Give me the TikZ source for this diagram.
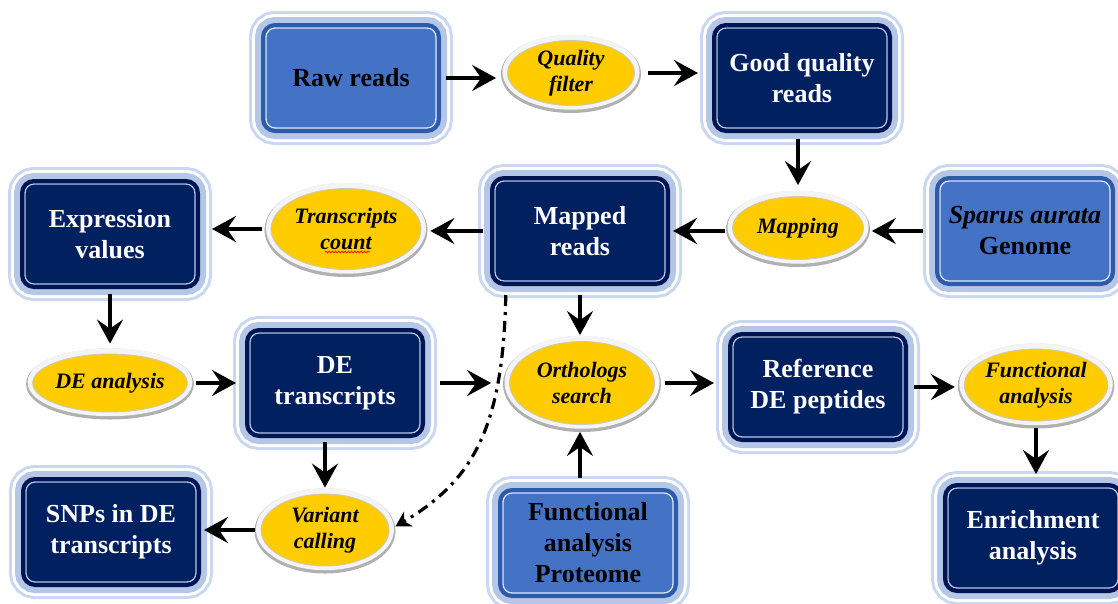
\documentclass[tikz,border=0pt]{standalone}
\usepackage{fontspec}
\setmainfont{Liberation Serif}
\usetikzlibrary{arrows.meta,decorations.pathmorphing,shapes.geometric}

\definecolor{navy}{HTML}{002060}
\definecolor{navyedge}{HTML}{001552}
\definecolor{navyline}{HTML}{B4C7E7}
\definecolor{midblue}{HTML}{4472C4}
\definecolor{midedge}{HTML}{2E5AAC}
\definecolor{midline}{HTML}{DCE5F5}
\definecolor{glowedge}{HTML}{C9D7F0}
\definecolor{glowfill}{HTML}{B4C7E7}
\definecolor{gold}{HTML}{FFCC00}
\definecolor{rimshadow}{HTML}{B0B0B0}
\definecolor{rimlight}{HTML}{F4F4F4}
\definecolor{rimline}{HTML}{C8C8C8}

\newcommand{\boxfont}{\fontsize{26}{31}\selectfont\bfseries}
\newcommand{\ovalfont}{\fontsize{22}{26}\selectfont\bfseries\itshape}

\tikzset{
  glowframe/.style={
    preaction={draw=glowedge, line width=28pt},
    preaction={draw=white, line width=22pt},
    preaction={draw=glowfill, line width=16pt}},
  innerrule/.style={draw=#1, line width=1.3pt, rounded corners=9pt},
  stepbox/.style={glowframe, rectangle, rounded corners=12pt,
    minimum width=176pt, minimum height=106pt, inner sep=0pt,
    align=center, font=\boxfont, line width=4pt},
  darkbox/.style={stepbox, fill=navy, draw=navyedge, text=white,
    path picture={\draw[innerrule=navyline]
      ([xshift=3pt,yshift=3pt]path picture bounding box.south west) rectangle
      ([xshift=-3pt,yshift=-3pt]path picture bounding box.north east);}},
  lightbox/.style={stepbox, fill=midblue, draw=midedge, text=black,
    path picture={\draw[innerrule=midline]
      ([xshift=3pt,yshift=3pt]path picture bounding box.south west) rectangle
      ([xshift=-3pt,yshift=-3pt]path picture bounding box.north east);}},
  oval/.style={ellipse, inner sep=0pt, fill=gold, draw=rimline,
    line width=0.8pt, font=\ovalfont, align=center,
    preaction={draw=rimshadow, line width=13pt, transform canvas={yshift=-1pt}},
    preaction={draw=rimlight, line width=10pt, transform canvas={yshift=0.8pt}}},
  arr/.style={line width=4pt, -{Stealth[length=24pt,width=26pt,inset=9pt]}},
  dashdot/.style={line width=3.2pt, dash pattern=on 11pt off 6pt on 3pt off 6pt,
    -{Stealth[length=15pt,width=17pt,inset=5pt]}},
  squiggle/.style={red, line width=0.7pt, decorate,
    decoration={snake, amplitude=0.9pt, segment length=3.2pt}}
}

\begin{document}
\begin{tikzpicture}[x=1pt,y=-1pt]
\useasboundingbox (0,0) rectangle (1118,603);

% process boxes and steps
\node[lightbox] (raw) at (351,78) {Raw reads};
\node[oval, minimum width=127pt, minimum height=65pt] (qf) at (571,73) {Quality\\filter};
\node[darkbox] (good) at (802,78) {Good quality\\reads};
\node[oval, minimum width=131pt, minimum height=63pt] (map) at (798,228) {Mapping};
\node[lightbox] (genome) at (1025,231) {\textit{Sparus aurata}\\Genome};
\node[darkbox] (mapped) at (580,231) {Mapped\\reads};
\node[oval, minimum width=150pt, minimum height=81pt] (tc) at (346,229) {Transcripts\\count};
\node[darkbox] (expr) at (110,234) {Expression\\values};
\node[oval, minimum width=133pt, minimum height=58pt] (dea) at (110,383) {DE analysis};
\node[darkbox] (det) at (335,383) {DE\\transcripts};
\node[oval, minimum width=145pt, minimum height=83pt] (orth) at (582,383) {Orthologs\\search};
\node[darkbox] (ref) at (818,387) {Reference\\DE peptides};
\node[oval, minimum width=130pt, minimum height=72pt] (func) at (1036,385) {Functional\\analysis};
\node[darkbox] (enr) at (1033,538) {Enrichment\\analysis};
\node[lightbox] (prot) at (588,543) {Functional\\analysis\\Proteome};
\node[oval, minimum width=128pt, minimum height=72pt] (var) at (325,530) {Variant\\calling};
\node[darkbox] (snp) at (111,532) {SNPs in DE\\transcripts};

% spell-check mark under "count"
\draw[squiggle] ([shift={(-21,23)}]tc.center) -- ([shift={(24,23)}]tc.center);

% flow arrows
\draw[arr, shorten <=5pt, shorten >=11pt] (raw.east) -- (raw.east -| qf.west);
\draw[arr, shorten <=13pt, shorten >=14pt] (qf.east) -- (qf.east -| good.west);
\draw[arr, shorten <=6pt, shorten >=11pt] (good.south -| map.north) -- (map.north);
\draw[arr, shorten <=12pt, shorten >=8pt] (genome.west) -- (genome.west -| map.east);
\draw[arr, shorten <=7pt, shorten >=3pt] (map.west |- mapped.east) -- (mapped.east);
\draw[arr, shorten <=7pt, shorten >=9pt] (mapped.west) -- (mapped.west -| tc.east);
\draw[arr, shorten <=9pt, shorten >=12pt] (tc.west) -- (tc.west -| expr.east);
\draw[arr, shorten <=5pt, shorten >=10pt] (expr.south) -- (expr.south |- dea.north);
\draw[arr, shorten <=8pt, shorten >=9pt] (dea.east) -- (dea.east -| det.west);
\draw[arr, shorten <=15pt, shorten >=18pt] (det.east) -- (det.east -| orth.west);
\draw[arr, shorten <=9pt, shorten >=6pt] (mapped.south) -- (mapped.south |- orth.north);
\draw[arr, shorten <=10pt, shorten >=7pt] (prot.north -| mapped.south) -- (mapped.south |- orth.south);
\draw[arr, shorten <=10pt, shorten >=14pt] (orth.east) -- (orth.east -| ref.west);
\draw[arr, shorten <=6pt, shorten >=9pt] (ref.east) -- (ref.east -| func.west);
\draw[arr, shorten <=7pt, shorten >=9pt] (func.south) -- (func.south |- enr.north);
\draw[arr, shorten <=4pt, shorten >=6pt] (det.south -| var.north) -- (var.north);
\draw[arr, shorten <=6pt, shorten >=3pt] (var.west) -- (var.west -| snp.east);

% variant calling taken straight from the mapped reads
\draw[dashdot, shorten <=9pt, shorten >=7pt]
  ([xshift=-74pt]mapped.south) .. controls +(-3,140) and +(85,-50) .. (var.east);
\end{tikzpicture}
\end{document}
